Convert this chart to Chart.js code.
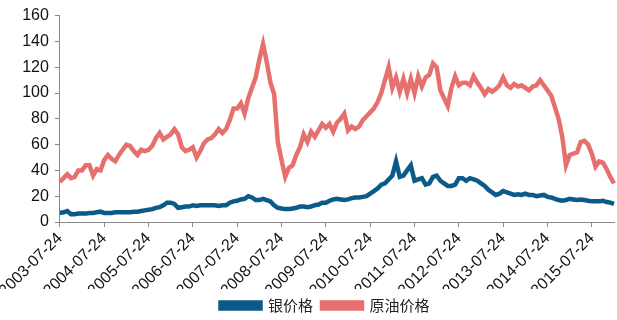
<!DOCTYPE html>
<html>
<head>
<meta charset="utf-8">
<script src="https://cdn.jsdelivr.net/npm/chart.js@4"></script>
<style>
  html, body { margin: 0; padding: 0; background: #fff; }
  #wrap { width: 617px; height: 320px; }
</style>
</head>
<body>
<div id="wrap"><canvas id="priceChart" width="617" height="320"></canvas></div>
<script>
// ---------- Data (monthly) ----------
const startYear = 2003;
const startMonth = 7; // first point 2003-07-24
const yearTicks = [
  "2003-07-24", "2004-07-24", "2005-07-24", "2006-07-24", "2007-07-24",
  "2008-07-24", "2009-07-24", "2010-07-24", "2011-07-24", "2012-07-24",
  "2013-07-24", "2014-07-24", "2015-07-24"
];

const silverPrice = [
  7, 7.5, 8.5, 6, 6, 6.5, 6.5, 6.5, 7, 7, 7.5, 8,
  7, 7, 7, 7.5, 7.5, 7.5, 7.5, 7.5, 8, 8, 8.5, 9,
  9.5, 10, 11, 11.5, 13, 15, 15, 14, 11, 11.5, 12, 12,
  13, 12.5, 13, 13, 13, 13, 13, 12.5, 13, 13, 15, 16,
  16.5, 17.5, 18, 20, 19, 17, 17, 18, 17, 16, 13, 11,
  10.5, 10, 10, 10.5, 11, 12, 12, 11.5, 12, 13, 13.5, 15,
  15, 16.5, 17.5, 18, 17.5, 17, 17.5, 18.5, 19, 19, 19.5, 20,
  22, 24, 26, 29, 30, 33, 36, 47, 35, 36, 40, 44,
  32, 33, 34, 29, 30, 35, 36, 32, 30, 28, 28, 29,
  34, 34, 32, 34, 33, 32, 30, 28, 25, 23, 21, 22,
  24, 23, 22, 21, 21.5, 21, 22, 21, 21, 20, 20.5, 21,
  19.5, 19, 18, 17, 16.5, 17, 18, 17.5, 17, 17.5, 17, 16.5,
  16, 16, 16, 16.5, 15.5, 15, 14
];

const oilPrice = [
  31, 34, 37, 34, 35, 40, 40, 44, 44, 36, 41, 40,
  48, 52, 49, 47, 52, 56, 60, 59, 55, 52, 56, 55,
  56, 59, 65, 69, 64, 66, 68, 72, 68, 58, 55, 56,
  58, 50, 55, 61, 64, 65, 68, 72, 69, 72, 79, 88,
  88, 92, 84, 96, 104, 112, 126, 138, 124, 108, 99, 62,
  48, 35, 42, 44, 52, 58, 68, 62, 70, 66, 71, 76,
  73, 76, 70, 77, 80, 84, 71, 74, 72, 74, 79, 82,
  85, 88, 93, 100, 110, 120, 104, 112, 101, 111, 100, 111,
  100, 113, 105, 112, 114, 123, 120, 102, 96, 90, 104, 113,
  106, 108, 108, 106, 113, 108, 104, 99, 103, 101, 103, 106,
  112, 106, 104, 107, 105, 106, 104, 102, 105, 106, 110, 106,
  102, 98, 89, 80, 66, 44, 52, 53, 54, 62, 63, 60,
  53, 43, 47, 46, 41, 35, 30
];

// month labels for the category axis
const dateLabels = silverPrice.map((_, i) => {
  const m = startMonth - 1 + i;
  const y = startYear + Math.floor(m / 12);
  const mm = String((m % 12) + 1).padStart(2, "0");
  return `${y}-${mm}-24`;
});

const blue = "#0b5a88";
const red = "#e6706e";

// nudge the legend a little right, like the original
const legendShift = {
  id: "legendShift",
  afterLayout(chart) {
    const lg = chart.legend;
    if (!lg) return;
    lg.left += 16;
    lg.right += 16;
    (lg.legendHitBoxes || []).forEach(b => (b.left += 16));
  }
};

// ---------- Chart ----------
let ctx = document.getElementById("priceChart").getContext("2d");
new Chart(ctx, {
  type: "line",
  data: {
    labels: dateLabels,
    datasets: [
      {
        label: "银价格",
        data: silverPrice,
        borderColor: blue,
        backgroundColor: blue,
        borderWidth: 4.5,
        pointRadius: 0,
        tension: 0,
        fill: false
      },
      {
        label: "原油价格",
        data: oilPrice,
        borderColor: red,
        backgroundColor: red,
        borderWidth: 4.5,
        pointRadius: 0,
        tension: 0,
        fill: false
      }
    ]
  },
  plugins: [legendShift],
  options: {
    responsive: false,
    animation: false,
    layout: { padding: { left: 4, right: 3, top: 8, bottom: -3 } },
    plugins: {
      tooltip: { enabled: false },
      legend: {
        position: "bottom",
        labels: {
          boxWidth: 40,
          boxHeight: 6,
          padding: 9,
          color: "#222",
          font: { family: "'Noto Sans CJK SC', sans-serif", size: 15 }
        }
      }
    },
    scales: {
      x: {
        type: "category",
        offset: false,
        afterBuildTicks: scale => {
          scale.ticks = scale.ticks.filter(t => yearTicks.includes(dateLabels[t.value]));
        },
        afterFit: scale => { scale.height = 67; },
        ticks: {
          autoSkip: false,
          maxRotation: 45,
          minRotation: 45,
          padding: 2,
          color: "#111",
          font: { family: "'Liberation Sans', Arial, sans-serif", size: 16 }
        },
        grid: {
          display: true,
          drawOnChartArea: false,
          tickLength: 5,
          color: "#888"
        },
        border: { color: "#888", width: 1 }
      },
      y: {
        min: 0,
        max: 160,
        ticks: {
          stepSize: 20,
          padding: 6,
          color: "#111",
          font: { family: "'Liberation Sans', Arial, sans-serif", size: 16 }
        },
        grid: {
          display: true,
          drawOnChartArea: false,
          tickLength: 5,
          color: "#888"
        },
        border: { color: "#888", width: 1 }
      }
    }
  }
});
</script>
</body>
</html>
